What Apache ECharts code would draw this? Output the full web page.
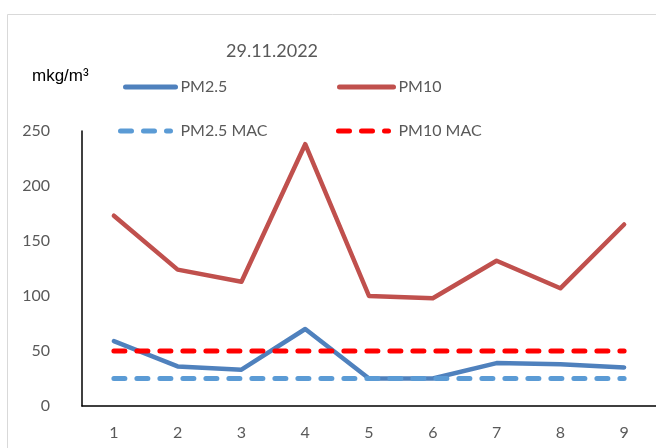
<!DOCTYPE html>
<html>
<head>
<meta charset="utf-8">
<script src="https://cdn.jsdelivr.net/npm/echarts@6/dist/echarts.min.js"></script>
<style>
  html, body { margin: 0; padding: 0; background: #fff; }
  #chart { width: 656px; height: 448px; }
</style>
</head>
<body>
<div id="chart"></div>
<script>
// Measurement points and concentrations (mkg/m³) on 29.11.2022
const categories = ['1', '2', '3', '4', '5', '6', '7', '8', '9'];
const pm25 = [59, 36, 33, 70, 25, 25, 39, 38, 35];
const pm10 = [173, 124, 113, 238, 100, 98, 132, 107, 165];
const pm25Mac = [25, 25, 25, 25, 25, 25, 25, 25, 25];
const pm10Mac = [50, 50, 50, 50, 50, 50, 50, 50, 50];
const yTicks = { min: 0, max: 250, interval: 50 };

const FONT = 'Lato, "Liberation Sans", sans-serif';
const GREY = '#595959';

const chart = echarts.init(document.getElementById('chart'), null, { renderer: 'canvas' });

// One legend block per series so the entries sit in a 2×2 grid
function legendAt(name, left, top, iconWidth, textGap) {
  return {
    data: [name],
    left: left,
    top: top,
    itemWidth: iconWidth,
    itemHeight: 14,
    itemGap: 0,
    padding: 0,
    selectedMode: false,
    itemStyle: { opacity: 0 },
    lineStyle: { width: 5, cap: 'round' },
    textStyle: { fontFamily: FONT, fontSize: 16, color: GREY, padding: [0, 0, 0, textGap] }
  };
}

const option = {
  animation: false,
  backgroundColor: '#fff',
  title: {
    text: '29.11.2022',
    left: 221,
    top: 37,
    textStyle: { fontFamily: FONT, fontSize: 18, fontWeight: 'normal', color: GREY }
  },
  graphic: [
    {
      type: 'rect',
      shape: { x: 7.5, y: 14.5, width: 660, height: 450 },
      style: { fill: 'none', stroke: '#d9d9d9', lineWidth: 1 },
      silent: true
    },
    {
      type: 'text',
      left: 32,
      top: 68,
      style: { text: 'mkg/m³', font: '17px "Liberation Sans", sans-serif', fill: '#000' }
    }
  ],
  legend: [
    legendAt('PM2.5', 123, 79, 50, 0),
    legendAt('PM10', 337, 79, 54, 0),
    legendAt('PM2.5 MAC', 118, 123, 50, 5),
    legendAt('PM10 MAC', 336, 123, 50, 5)
  ],
  grid: { left: 82, right: -2, top: 131, bottom: 42, containLabel: false },
  xAxis: {
    type: 'category',
    data: categories,
    boundaryGap: true,
    axisLine: { lineStyle: { color: '#000', width: 1.5 } },
    axisTick: { show: false },
    axisLabel: { fontFamily: FONT, fontSize: 16, color: GREY, margin: 19 },
    splitLine: { show: false }
  },
  yAxis: {
    type: 'value',
    min: yTicks.min,
    max: yTicks.max,
    interval: yTicks.interval,
    axisLine: { show: true, lineStyle: { color: '#000', width: 1.5 } },
    axisTick: { show: false },
    axisLabel: { fontFamily: FONT, fontSize: 16, color: GREY, margin: 32 },
    splitLine: { show: false }
  },
  series: [
    {
      name: 'PM2.5', type: 'line', data: pm25, symbol: 'none',
      lineStyle: { color: '#4F81BD', width: 4.5, cap: 'round', join: 'round' },
      itemStyle: { color: '#4F81BD' }
    },
    {
      name: 'PM10', type: 'line', data: pm10, symbol: 'none',
      lineStyle: { color: '#C0504D', width: 4.5, cap: 'round', join: 'round' },
      itemStyle: { color: '#C0504D' }
    },
    {
      name: 'PM2.5 MAC', type: 'line', data: pm25Mac, symbol: 'none',
      lineStyle: { color: '#5B9BD5', width: 5, type: [11, 12], cap: 'round' },
      itemStyle: { color: '#5B9BD5' }
    },
    {
      name: 'PM10 MAC', type: 'line', data: pm10Mac, symbol: 'none',
      lineStyle: { color: '#FF0000', width: 5, type: [11, 12], cap: 'round' },
      itemStyle: { color: '#FF0000' }
    }
  ]
};

chart.setOption(option);
</script>
</body>
</html>
